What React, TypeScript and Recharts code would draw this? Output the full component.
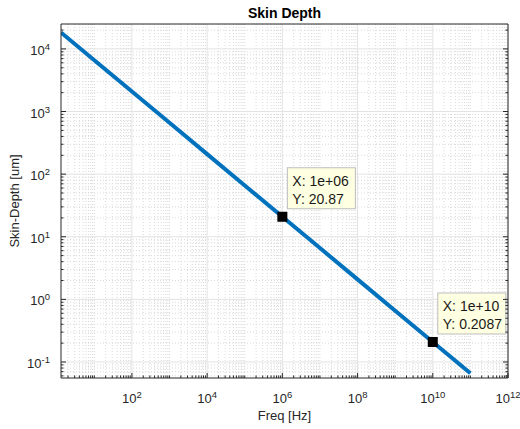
import React from 'react';
import { ComposedChart, Line, Scatter, XAxis, YAxis, CartesianGrid } from 'recharts';

// skin depth [um] against frequency [Hz]
const freqHz = [1.3, 1e1, 1e2, 1e3, 1e4, 1e5, 1e6, 1e7, 1e8, 1e9, 1e10, 1e11];
const depthUm = [18300, 6600, 2087, 660, 208.7, 66, 20.87, 6.6, 2.087, 0.66, 0.2087, 0.066];

// data tips
const tipFreqHz = [1e6, 1e10];
const tipDepthUm = [20.87, 0.2087];

// labelled decades
const xLabelExps = [2, 4, 6, 8, 10, 12];
const yLabelExps = [-1, 0, 1, 2, 3, 4];

const X_DOMAIN: [number, number] = [1.3, 1e12];
const Y_DOMAIN: [number, number] = [0.0555, 25000];

const W = 520;
const H = 429;
const PLOT = { left: 61, top: 24, right: 508, bottom: 378 };

const AXIS = '#262626';
const BLUE = '#0072BD';
const FONT = '"Liberation Sans", Arial, Helvetica, sans-serif';

const lineData = freqHz.map((f, i) => ({ freq: f, depth: depthUm[i] }));
const tipData = tipFreqHz.map((f, i) => ({ freq: f, depth: tipDepthUm[i] }));

function logTicks([lo, hi]: [number, number]) {
  const out: number[] = [];
  for (let e = Math.floor(Math.log10(lo)); e <= Math.ceil(Math.log10(hi)); e++) {
    for (let m = 1; m <= 9; m++) {
      const v = m * Math.pow(10, e);
      if (v >= lo && v <= hi) out.push(v);
    }
  }
  return out;
}

const isDecade = (v: number) => Math.abs(Math.log10(v) - Math.round(Math.log10(v))) < 1e-9;
const expOf = (v: number) => Math.round(Math.log10(v));

const xTicks = logTicks(X_DOMAIN);
const yTicks = logTicks(Y_DOMAIN);
const xMajor = xLabelExps.map((e) => Math.pow(10, e));
const yMajor = yLabelExps.map((e) => Math.pow(10, e));
const isXMajor = (v: number) => isDecade(v) && xLabelExps.includes(expOf(v));
const isYMajor = (v: number) => isDecade(v) && yLabelExps.includes(expOf(v));
const xMinor = xTicks.filter((v) => !isXMajor(v));
const yMinor = yTicks.filter((v) => !isYMajor(v));

function Pow10({ x, y, exp, anchor }: { x: number; y: number; exp: number; anchor: 'middle' | 'end' }) {
  return (
    <text x={x} y={y} textAnchor={anchor} fill={AXIS} fontSize={13} fontFamily={FONT}>
      10
      <tspan dy={-5} fontSize={9.5}>
        {exp}
      </tspan>
    </text>
  );
}

// ticks point into the plot box, MATLAB style
function BottomTick({ x, y, payload }: any) {
  const v = payload.value;
  const major = isXMajor(v);
  return (
    <g>
      <line x1={x} x2={x} y1={y} y2={y - (major ? 5 : 2.5)} stroke={AXIS} />
      {major && <Pow10 x={x} y={y + 25} exp={expOf(v)} anchor="middle" />}
    </g>
  );
}

function TopTick({ x, y, payload }: any) {
  const major = isXMajor(payload.value);
  return <line x1={x} x2={x} y1={y} y2={y + (major ? 5 : 2.5)} stroke={AXIS} />;
}

function LeftTick({ x, y, payload }: any) {
  const v = payload.value;
  const major = isYMajor(v);
  return (
    <g>
      <line x1={x} x2={x + (major ? 5 : 2.5)} y1={y} y2={y} stroke={AXIS} />
      {major && <Pow10 x={x - 11} y={y + 6} exp={expOf(v)} anchor="end" />}
    </g>
  );
}

function RightTick({ x, y, payload }: any) {
  const major = isYMajor(payload.value);
  return <line x1={x} x2={x - (major ? 5 : 2.5)} y1={y} y2={y} stroke={AXIS} />;
}

const fmtX = (v: number) => {
  const [m, e] = v.toExponential().split('e');
  const sign = e[0];
  const digits = e.slice(1).padStart(2, '0');
  return `${m}e${sign}${digits}`;
};
const fmtY = (v: number) => String(Number(v.toPrecision(4)));

function DataTip({ cx, cy, payload }: any) {
  if (cx == null || cy == null) return null;
  return (
    <g>
      <rect x={cx + 5} y={cy - 49} width={68} height={41} fill="#FFFFE1" stroke="#bdbdbd" strokeWidth={1} />
      <text x={cx + 10} y={cy - 31} fontSize={14} fontFamily={FONT} fill="#1a1a1a">
        X: {fmtX(payload.freq)}
      </text>
      <text x={cx + 10} y={cy - 13} fontSize={14} fontFamily={FONT} fill="#1a1a1a">
        Y: {fmtY(payload.depth)}
      </text>
      <rect x={cx - 5} y={cy - 5} width={10} height={10} fill="#000" />
    </g>
  );
}

export default function App() {
  const plotW = PLOT.right - PLOT.left;
  const plotH = PLOT.bottom - PLOT.top;
  return (
    <div style={{ position: 'absolute', left: 0, top: 0, width: W, height: H, background: '#fff' }}>
      <ComposedChart
        width={W}
        height={H}
        data={lineData}
        margin={{ top: PLOT.top - 1, right: W - PLOT.right - 1, bottom: H - PLOT.bottom - 40, left: 0 }}
      >
        <CartesianGrid
          horizontalValues={yMinor}
          verticalValues={xMinor}
          stroke="#dadada"
          strokeDasharray="1 2"
        />
        <CartesianGrid horizontalValues={yMajor} verticalValues={xMajor} stroke="#e3e3e3" />
        <XAxis
          dataKey="freq"
          type="number"
          scale="log"
          domain={X_DOMAIN}
          allowDataOverflow
          ticks={xTicks}
          interval={0}
          tickSize={0}
          tickMargin={0}
          tickLine={false}
          tick={BottomTick}
          height={40}
          stroke={AXIS}
        />
        <XAxis
          xAxisId="top"
          orientation="top"
          type="number"
          scale="log"
          domain={X_DOMAIN}
          allowDataOverflow
          ticks={xTicks}
          interval={0}
          tickSize={0}
          tickMargin={0}
          tickLine={false}
          tick={TopTick}
          height={1}
          stroke={AXIS}
        />
        <YAxis
          type="number"
          scale="log"
          domain={Y_DOMAIN}
          allowDataOverflow
          ticks={yTicks}
          interval={0}
          tickSize={0}
          tickMargin={0}
          tickLine={false}
          tick={LeftTick}
          width={PLOT.left}
          stroke={AXIS}
        />
        <YAxis
          yAxisId="right"
          orientation="right"
          type="number"
          scale="log"
          domain={Y_DOMAIN}
          allowDataOverflow
          ticks={yTicks}
          interval={0}
          tickSize={0}
          tickMargin={0}
          tickLine={false}
          tick={RightTick}
          width={1}
          stroke={AXIS}
        />
        <Line
          dataKey="depth"
          stroke={BLUE}
          strokeWidth={4}
          dot={false}
          activeDot={false}
          isAnimationActive={false}
        />
        <Scatter data={tipData} dataKey="depth" shape={DataTip} isAnimationActive={false} />
      </ComposedChart>
      <svg
        width={W}
        height={H}
        style={{ position: 'absolute', left: 0, top: 0, pointerEvents: 'none' }}
      >
        <text
          x={PLOT.left + plotW / 2}
          y={18}
          textAnchor="middle"
          fontSize={14}
          fontWeight="bold"
          fontFamily={FONT}
          fill="#000"
        >
          Skin Depth
        </text>
        <text
          x={PLOT.left + plotW / 2}
          y={420}
          textAnchor="middle"
          fontSize={13}
          fontFamily={FONT}
          fill={AXIS}
        >
          Freq [Hz]
        </text>
        <text
          transform={`translate(19, ${PLOT.top + plotH / 2}) rotate(-90)`}
          textAnchor="middle"
          fontSize={13}
          fontFamily={FONT}
          fill={AXIS}
        >
          Skin-Depth [um]
        </text>
      </svg>
    </div>
  );
}
